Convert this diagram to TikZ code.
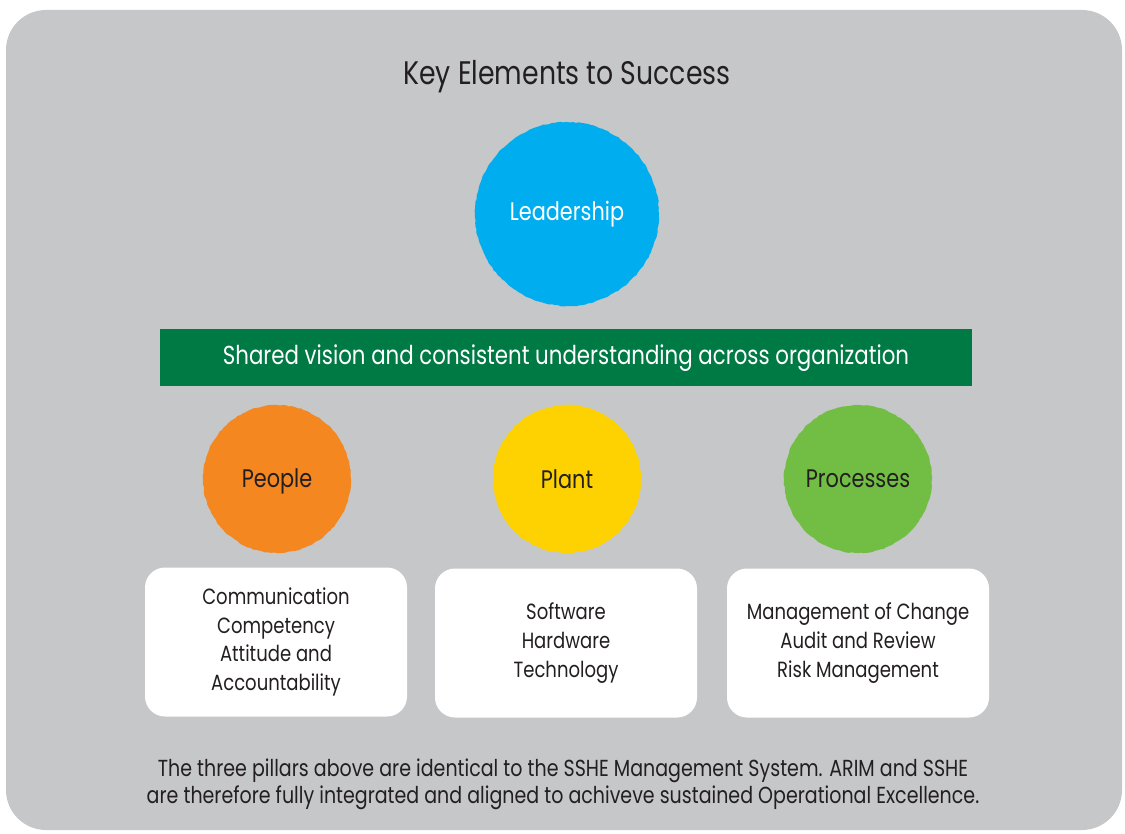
\documentclass[tikz,border=0pt]{standalone}
\usepackage{fontspec}
\setmainfont{Poppins}[FakeStretch=0.82]
\usepackage{tikz}
\usetikzlibrary{positioning,decorations.pathmorphing}

\definecolor{sfondo}{HTML}{C6C7C9}
\definecolor{testo}{HTML}{231F20}
\definecolor{blu}{HTML}{00AEEF}
\definecolor{arancio}{HTML}{F58720}
\definecolor{giallo}{HTML}{FDD200}
\definecolor{verde}{HTML}{72BE44}
\definecolor{verdescuro}{HTML}{007A45}

\begin{document}
\begin{tikzpicture}[x=0.5pt, y=-0.5pt, text=testo,
    ruvido/.style={decorate, decoration={random steps, segment length=1.5pt, amplitude=0.25pt}},
    pilastro/.style={circle, minimum size=74pt, inner sep=0pt, font=\fontsize{12.7}{15}\selectfont},
    scatola/.style={rounded corners=10pt, fill=white, minimum width=131pt, minimum height=74.5pt,
      align=center, font=\fontsize{11}{14.3}\selectfont}]
      \useasboundingbox (0,0) rectangle (1125,834);

      % Sfondo
      \fill[sfondo, rounded corners=20pt] (6,10) rectangle (1122,830);

      % Titolo
      \node (titolo) at (567,77) {\fontsize{16.3}{20}\selectfont Key Elements to Success};

      % Livello superiore
      \fill[blu, ruvido] (567,214) circle (92);
      \node (L) at (567,214) [circle, minimum size=92pt, text=white, font=\fontsize{12.7}{15}\selectfont] {Leadership};

      % Fascia
      \node (V) at (566,358) [fill=verdescuro, minimum width=406pt, minimum height=28.5pt, text=white,
        font=\fontsize{13}{15}\selectfont] {Shared vision and consistent understanding across organization};

      % Livello inferiore
      \fill[arancio, ruvido] (277,479) circle (74);
      \fill[giallo, ruvido] (567,479) circle (74);
      \fill[verde, ruvido] (858,479) circle (74);
      \node (P1) at (277,481) [pilastro] {People};
      \node (P2) at (567,479) [pilastro] {Plant};
      \node (P3) at (858,479) [pilastro] {Processes};

      % Scatole
      \node (S1) at (276,642) [scatola] {Communication\\Competency\\Attitude and\\Accountability};
      \node (S2) at (566,643) [scatola] {Software\\Hardware\\Technology};
      \node (S3) at (858,643) [scatola] {Management of Change\\Audit and Review\\Risk Management};

      % Nota
      \node (N) at (563,784) [align=center, font=\fontsize{11.6}{13.5}\selectfont]
        {The three pillars above are identical to the SSHE Management System. ARIM and SSHE\\
         are therefore fully integrated and aligned to achiveve sustained Operational Excellence.};
\end{tikzpicture}
\end{document}
